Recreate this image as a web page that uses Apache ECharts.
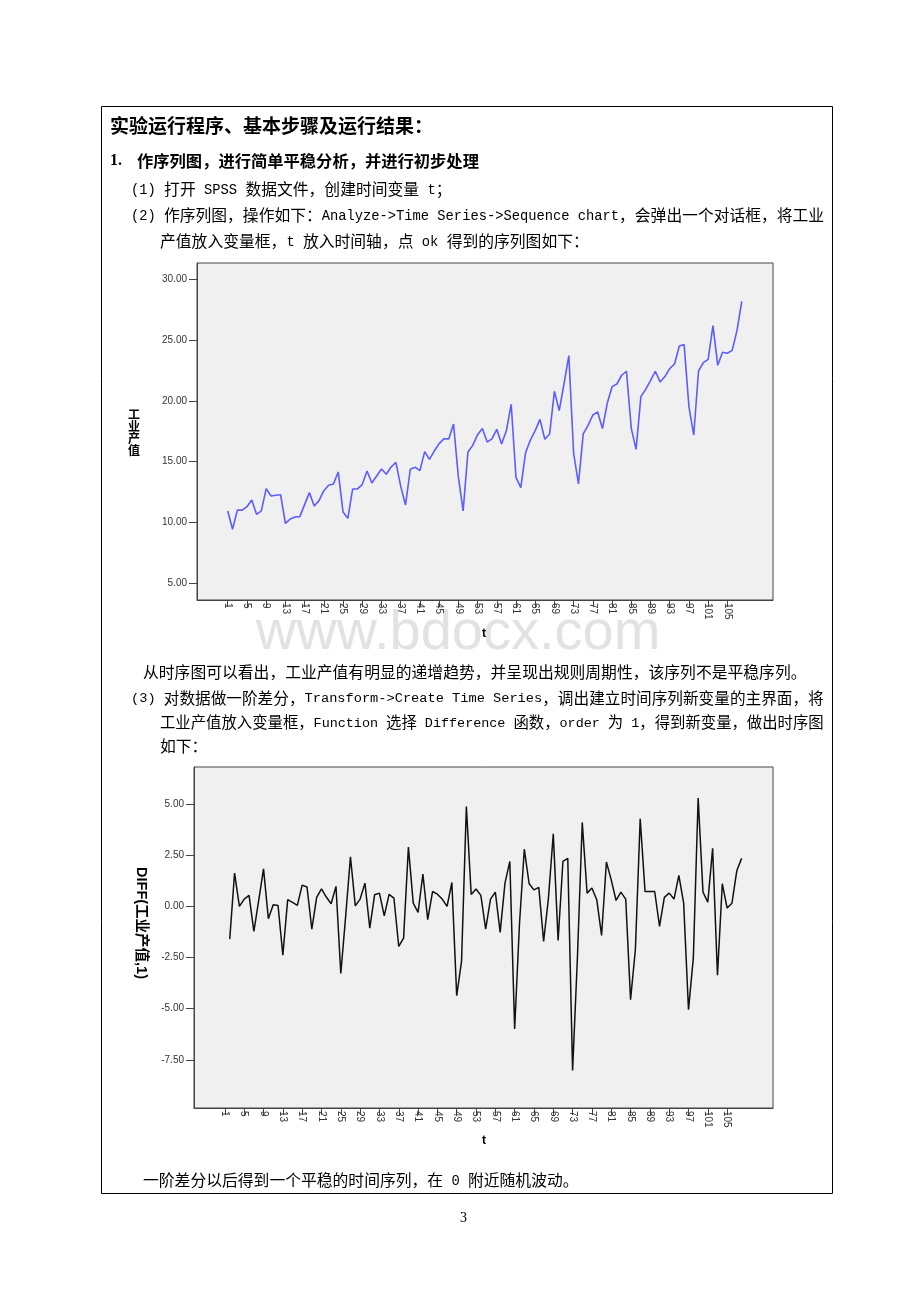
<!DOCTYPE html>
<html>
<head>
<meta charset="utf-8">
<script src="https://cdn.jsdelivr.net/npm/echarts@6/dist/echarts.min.js"></script>
<style>
html,body{margin:0;padding:0;background:#fff;}
#main{width:920px;height:1302px;}
</style>
</head>
<body>
<div id="main"></div>
<script>
// ---------- data ----------
// 工业产值, t = 1..108
const outputValues = [
 10.93, 9.42, 11.00, 11.00, 11.28, 11.83, 10.65, 10.93, 12.77, 12.16,
 12.22, 12.27, 9.91, 10.27, 10.43, 10.46, 11.45, 12.44, 11.34, 11.78,
 12.60, 13.04, 13.15, 14.14, 10.85, 10.32, 12.74, 12.74, 13.10, 14.22,
 13.23, 13.81, 14.38, 13.95, 14.55, 14.93, 12.97, 11.42, 14.36, 14.53,
 14.25, 15.81, 15.18, 15.87, 16.47, 16.86, 16.86, 18.09, 13.75, 10.93,
 15.78, 16.33, 17.21, 17.71, 16.60, 16.86, 17.65, 16.44, 17.54, 19.71,
 13.70, 12.85, 15.73, 16.77, 17.54, 18.47, 16.83, 17.27, 20.78, 19.19,
 21.40, 23.72, 15.68, 13.15, 17.27, 17.98, 18.83, 19.08, 17.71, 19.79,
 21.16, 21.38, 22.10, 22.43, 17.73, 16.00, 20.34, 20.94, 21.66, 22.43,
 21.55, 21.99, 22.65, 23.03, 24.51, 24.62, 19.52, 17.18, 22.45, 23.14,
 23.41, 26.19, 22.92, 23.99, 23.91, 24.15, 25.77, 28.19
];
// DIFF(工业产值,1), t = 2..108
const diffValues = [
 -1.60, 1.63, 0.00, 0.36, 0.54, -1.22, 0.30, 1.84, -0.60, 0.08,
 0.05, -2.38, 0.33, 0.20, 0.05, 1.04, 0.95, -1.11, 0.44, 0.86,
 0.46, 0.13, 0.98, -3.28, -0.50, 2.43, 0.03, 0.36, 1.14, -1.06,
 0.57, 0.65, -0.46, 0.59, 0.41, -1.96, -1.55, 2.90, 0.16, -0.29,
 1.58, -0.65, 0.73, 0.60, 0.36, 0.00, 1.17, -4.37, -2.69, 4.89,
 0.58, 0.85, 0.54, -1.11, 0.36, 0.70, -1.27, 1.14, 2.20, -6.00,
 -0.85, 2.80, 1.11, 0.81, 0.93, -1.71, 0.41, 3.55, -1.66, 2.20,
 2.35, -8.02, -2.50, 4.11, 0.65, 0.90, 0.33, -1.42, 2.17, 1.30,
 0.29, 0.70, 0.36, -4.56, -2.12, 4.29, 0.73, 0.73, 0.73, -0.98,
 0.44, 0.65, 0.36, 1.52, 0.16, -5.05, -2.53, 5.30, 0.70, 0.21,
 2.84, -3.36, 1.11, -0.08, 0.16, 1.74, 2.35
];
const xTickLabels = [1,5,9,13,17,21,25,29,33,37,41,45,49,53,57,61,65,69,73,77,81,85,89,93,97,101,105];
const yTicks1 = [5,10,15,20,25,30];
const yTicks2 = [-7.5,-5,-2.5,0,2.5,5];

// ---------- text ----------
const bodyLines = [
  {t:'(1) 打开 SPSS 数据文件，创建时间变量 t；', x:131, y:189},
  {t:'(2) 作序列图，操作如下：Analyze->Time Series->Sequence chart，会弹出一个对话框，将工业', x:131, y:215, end:824},
  {t:'产值放入变量框，t 放入时间轴，点 ok 得到的序列图如下：', x:160, y:241},
  {t:'从时序图可以看出，工业产值有明显的递增趋势，并呈现出规则周期性，该序列不是平稳序列。', x:143, y:672},
  {t:'(3) 对数据做一阶差分，Transform->Create Time Series，调出建立时间序列新变量的主界面，将', x:131, y:698, end:824},
  {t:'工业产值放入变量框，Function 选择 Difference 函数，order 为 1，得到新变量，做出时序图', x:160, y:722, end:824},
  {t:'如下：', x:160, y:746},
  {t:'一阶差分以后得到一个平稳的时间序列，在 0 附近随机波动。', x:143, y:1180}
];
const CJK_SIZE = 15.8, LAT_SIZE = 13.8;
const measureCtx = document.createElement('canvas').getContext('2d');
function splitRuns(s){
  const runs = []; let cur = '', curType = null;
  for (const ch of s){
    const tp = ch.charCodeAt(0) < 128 ? 'a' : 'c';
    if (tp !== curType && cur){ runs.push([curType, cur]); cur=''; }
    curType = tp; cur += ch;
  }
  if (cur) runs.push([curType, cur]);
  return runs;
}
function latFont(sz){ return sz+'px "Liberation Mono"'; }
function cjkFont(sz){ return sz+'px "Noto Sans CJK SC"'; }
function runsWidth(runs, cs, ls){
  let w = 0;
  runs.forEach(([tp, s]) => { measureCtx.font = tp==='a' ? latFont(ls) : cjkFont(cs); w += measureCtx.measureText(s).width; });
  return w;
}

const chart = echarts.init(document.getElementById('main'), null, {renderer:'canvas', width:920, height:1302});

const graphics = [];
graphics.push({type:'text', z:-1, x:458, y:634, style:{text:'www.bdocx.com', font:'56px "Liberation Sans"', fill:'#e2e2e2', align:'center', verticalAlign:'middle'}});
graphics.push({type:'rect', shape:{x:101.5, y:106.5, width:731, height:1087}, style:{fill:'none', stroke:'#000', lineWidth:1}});
graphics.push({type:'text', x:110, y:126, style:{text:'实验运行程序、基本步骤及运行结果：', font:'bold 19px "Noto Sans CJK SC"', fill:'#000', verticalAlign:'middle'}});
graphics.push({type:'text', x:110, y:161, style:{text:'1.', font:'bold 16px "Liberation Serif"', fill:'#000', verticalAlign:'middle'}});
graphics.push({type:'text', x:137, y:161, style:{text:'作序列图，进行简单平稳分析，并进行初步处理', font:'bold 16.3px "Noto Sans CJK SC"', fill:'#000', verticalAlign:'middle'}});
bodyLines.forEach(l => {
  const runs = splitRuns(l.t);
  let cs = CJK_SIZE, ls = LAT_SIZE;
  if (l.end){
    const k = (l.end - l.x) / runsWidth(runs, cs, ls);
    cs = +(cs*k).toFixed(2); ls = +(ls*k).toFixed(2);
  }
  const rich = {
    a:{font:latFont(ls), fill:'#000', verticalAlign:'bottom'},
    c:{font:cjkFont(cs), fill:'#000', verticalAlign:'bottom'}
  };
  const txt = runs.map(([tp,s]) => '{'+tp+'|'+s+'}').join('');
  graphics.push({type:'text', x:l.x, y:l.y, style:{text:txt, rich:rich, verticalAlign:'middle'}});
});
graphics.push({type:'text', x:460, y:1218, style:{text:'3', font:'14px "Liberation Serif"', fill:'#000', verticalAlign:'middle'}});
// axis titles
['工','业','产','值'].forEach((c,i)=>graphics.push({type:'text', x:134, y:414+i*12, style:{text:c, font:'bold 12px "Noto Sans CJK SC"', fill:'#000', align:'center', verticalAlign:'middle'}}));
graphics.push({type:'text', x:484, y:634, style:{text:'t', font:'bold 12px "Liberation Sans"', fill:'#000', align:'center', verticalAlign:'middle'}});
graphics.push({type:'text', x:141, y:923, rotation:-Math.PI/2, style:{text:'DIFF(工业产值,1)', font:'bold 14.5px "Liberation Sans", "Noto Sans CJK SC"', fill:'#000', align:'center', verticalAlign:'middle'}});
graphics.push({type:'text', x:484, y:1141, style:{text:'t', font:'bold 12px "Liberation Sans"', fill:'#000', align:'center', verticalAlign:'middle'}});

function xAxisCfg(gi){
  return {
    type:'value', gridIndex:gi, min:-5.4, max:114.5,
    splitLine:{show:false},
    axisLine:{show:true, onZero:false, lineStyle:{color:'#444', width:1}},
    axisTick:{show:true, length:7, customValues:xTickLabels, lineStyle:{color:'#444'}},
    axisLabel:{show:true, rotate:-90, margin:3, fontSize:10, color:'#333', fontFamily:'"Liberation Sans"', customValues:xTickLabels}
  };
}
function yAxisCfg(gi, min, max, ticks){
  return {
    type:'value', gridIndex:gi, min:min, max:max,
    splitLine:{show:false},
    axisLine:{show:true, onZero:false, lineStyle:{color:'#444', width:1}},
    axisTick:{show:true, length:8, customValues:ticks, lineStyle:{color:'#444'}},
    axisLabel:{show:true, margin:10, fontSize:10, color:'#333', fontFamily:'"Liberation Sans"', customValues:ticks, formatter:v=>v.toFixed(2)}
  };
}

chart.setOption({
  backgroundColor:'#fff',
  animation:false,
  graphic:graphics,
  grid:[
    {left:197, top:263, width:576, height:337, show:true, backgroundColor:'#f0f0f0', borderColor:'#444', borderWidth:1},
    {left:194, top:767, width:579, height:341, show:true, backgroundColor:'#f0f0f0', borderColor:'#444', borderWidth:1}
  ],
  xAxis:[xAxisCfg(0), xAxisCfg(1)],
  yAxis:[yAxisCfg(0, 3.6, 31.34, yTicks1), yAxisCfg(1, -9.86, 6.82, yTicks2)],
  series:[
    {type:'line', xAxisIndex:0, yAxisIndex:0, showSymbol:false, data:outputValues.map((v,i)=>[i+1,v]), lineStyle:{color:'#5c5cff', width:1.6}, itemStyle:{color:'#5c5cff'}},
    {type:'line', xAxisIndex:1, yAxisIndex:1, showSymbol:false, data:diffValues.map((v,i)=>[i+2,v]), lineStyle:{color:'#111', width:1.5}, itemStyle:{color:'#111'}}
  ]
});
</script>
</body>
</html>
